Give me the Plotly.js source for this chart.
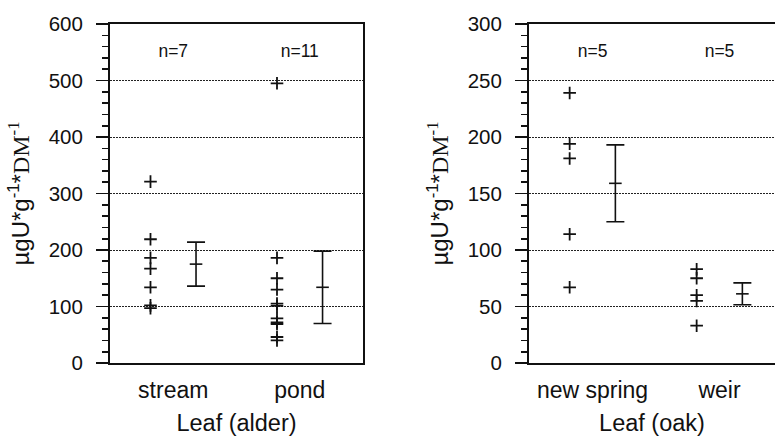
<!DOCTYPE html>
<html>
<head>
<meta charset="utf-8">
<script src="https://cdn.plot.ly/plotly-3.0.1.min.js"></script>
<style>
html,body{margin:0;padding:0;overflow:hidden;background:#fff;}
#chart{width:775px;height:436px;}
</style>
</head>
<body>
<div id="chart"></div>
<script>
// ---- data ----
var alderCategories = ["stream", "pond"];
var streamValues = [321, 219, 186, 167, 134, 102, 97];
var pondValues = [495, 186, 150, 130, 105, 101, 79, 72, 69, 46, 40];
var alderMeans = [175, 134];
var alderErrors = [39, 64];

var oakCategories = ["new spring", "weir"];
var newSpringValues = [239, 194, 181, 114, 67];
var weirValues = [83, 75, 60, 55, 33];
var oakMeans = [159, 61.2];
var oakErrors = [34, 9.7];

var alderTicks = [0, 100, 200, 300, 400, 500, 600];
var oakTicks = [0, 50, 100, 150, 200, 250, 300];

// ---- helpers ----
var OFF = 0.18;
function pointTrace(values, pos, xa, ya) {
  return {
    x: values.map(function(){ return pos - OFF; }),
    y: values,
    xaxis: xa, yaxis: ya,
    type: 'scatter', mode: 'markers',
    marker: {symbol: 'cross-thin', size: 9, line: {width: 1.8, color: '#111'}, color: '#111'},
    hoverinfo: 'y', showlegend: false, cliponaxis: false
  };
}
function meanTrace(means, errs, xa, ya) {
  return {
    x: means.map(function(_, i){ return i + 1 + OFF; }),
    y: means,
    xaxis: xa, yaxis: ya,
    type: 'scatter', mode: 'markers',
    marker: {symbol: 'line-ew', size: 9, line: {width: 1.6, color: '#111'}, color: '#111'},
    error_y: {type: 'data', array: errs, visible: true, thickness: 1.6, width: 9, color: '#111'},
    showlegend: false
  };
}
function nTrace(groups, yv, xa, ya) {
  return {
    x: groups.map(function(_, i){ return i + 1; }),
    y: groups.map(function(){ return yv; }),
    text: groups.map(function(g){ return 'n=' + g.length; }),
    xaxis: xa, yaxis: ya,
    type: 'scatter', mode: 'text',
    textfont: {family: 'Liberation Sans, Arial, sans-serif', size: 17.5, color: '#111'},
    hoverinfo: 'skip', showlegend: false
  };
}

var traces = [
  pointTrace(streamValues, 1, 'x', 'y'),
  pointTrace(pondValues, 2, 'x', 'y'),
  meanTrace(alderMeans, alderErrors, 'x', 'y'),
  nTrace([streamValues, pondValues], 550, 'x', 'y'),
  pointTrace(newSpringValues, 1, 'x2', 'y2'),
  pointTrace(weirValues, 2, 'x2', 'y2'),
  meanTrace(oakMeans, oakErrors, 'x2', 'y2'),
  nTrace([newSpringValues, weirValues], 275, 'x2', 'y2')
];

var FONT = 'Liberation Sans, Arial, sans-serif';
var ytitle = 'µgU*g<sup>-1</sup>*<span style="font-family:Liberation Serif, Times New Roman, serif">DM<sup>-1</sup></span>';

function xaxisDef(cats, domain, range, anchor, title) {
  return {
    domain: domain, anchor: anchor, range: range,
    tickvals: [1, 2], ticktext: cats, ticks: '', ticklabelstandoff: 5,
    tickfont: {family: FONT, size: 23, color: '#111'},
    showline: true, mirror: true, linecolor: '#111', linewidth: 2,
    showgrid: false, zeroline: false, fixedrange: true,
    title: {text: title, font: {family: FONT, size: 23.5, color: '#111'}, standoff: 16}
  };
}
function yaxisDef(range, minorTick, anchor, tickvals, mirror) {
  return {
    anchor: anchor, range: range, tickvals: tickvals,
    ticks: 'outside', ticklen: 12, tickwidth: 1.6, tickcolor: '#111', ticklabelstandoff: 9,
    minor: {dtick: minorTick, ticks: 'outside', ticklen: 6, tickwidth: 1.6, tickcolor: '#111', showgrid: false},
    tickfont: {family: FONT, size: 20.5, color: '#111'},
    showline: true, mirror: mirror, linecolor: '#111', linewidth: 2,
    showgrid: true, gridcolor: '#222', gridwidth: 1, griddash: '2px,1px',
    zeroline: false, fixedrange: true,
    title: {text: ytitle, font: {family: FONT, size: 24, color: '#111'}, standoff: 12}
  };
}

var layout = {
  width: 775, height: 436,
  margin: {l: 110, r: 0, t: 24, b: 73},
  paper_bgcolor: '#fff', plot_bgcolor: '#fff',
  font: {family: FONT, color: '#111'},
  xaxis: xaxisDef(alderCategories, [0, 0.3805], [0.5, 2.5], 'y', 'Leaf (alder)'),
  yaxis: yaxisDef([0, 600], 20, 'x', alderTicks, true),
  xaxis2: xaxisDef(oakCategories, [0.6301, 1], [0.5, 2.437], 'y2', 'Leaf (oak)'),
  yaxis2: yaxisDef([0, 300], 10, 'x2', oakTicks, false),
  showlegend: false
};
layout.xaxis2.mirror = true;

Plotly.newPlot('chart', traces, layout, {displayModeBar: false, staticPlot: true});
</script>
</body>
</html>
